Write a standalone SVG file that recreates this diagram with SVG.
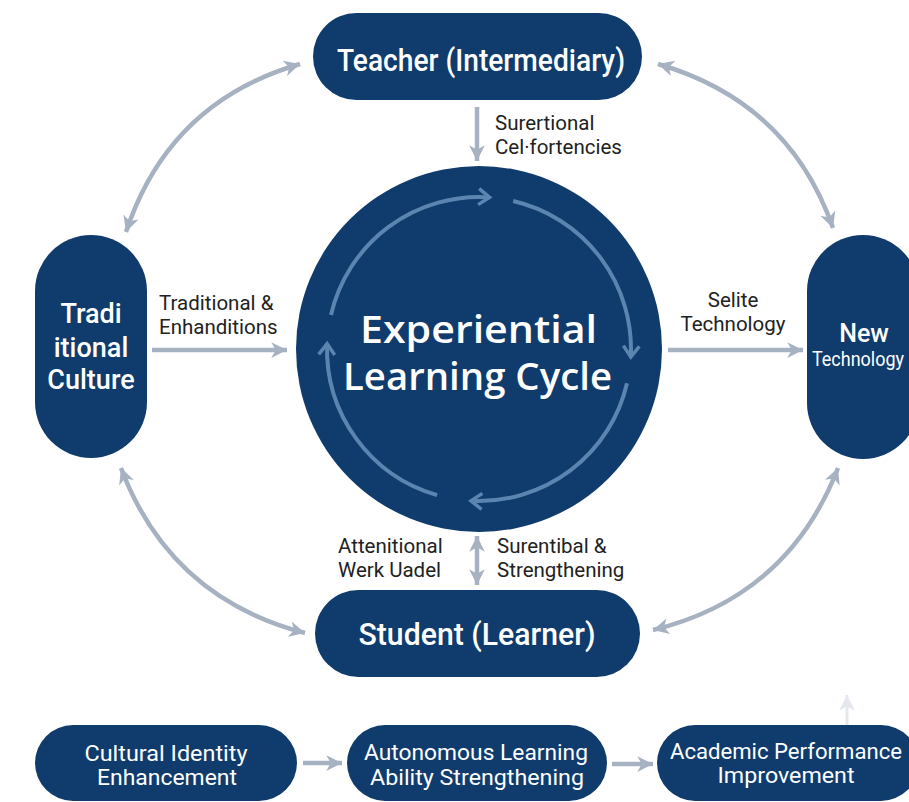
<svg xmlns="http://www.w3.org/2000/svg" width="909" height="802" viewBox="0 0 909 802">
  <defs>
    <style>
      .node { fill: #0f3c6d; }
      .ntxt { fill: #ffffff; font-family: Roboto, "Liberation Sans", sans-serif; font-weight: 500; text-anchor: middle; }
      .btxt { fill: #ffffff; font-family: Roboto, "Liberation Sans", sans-serif; font-weight: 400; text-anchor: middle; font-size: 22px; }
      .hub  { fill: #ffffff; font-family: "Open Sans", "Noto Sans", sans-serif; font-weight: 600; text-anchor: middle; font-size: 38px; }
      .lbl  { fill: #222222; font-family: Roboto, "Liberation Sans", sans-serif; font-size: 20.5px; }
      .link { fill: none; stroke: #a6b2c2; stroke-width: 4.5; }
      .cyc  { fill: none; stroke: #5b84b1; stroke-width: 4; }
    </style>
    <marker id="head" viewBox="0 0 16 16" markerWidth="18" markerHeight="18" markerUnits="userSpaceOnUse" refX="15" refY="8" orient="auto-start-reverse">
      <path d="M1,1 L15,8 L1,15 L5,8 Z" fill="#a6b2c2"/>
    </marker>
    <marker id="faint" viewBox="0 0 16 16" markerWidth="18" markerHeight="18" markerUnits="userSpaceOnUse" refX="15" refY="8" orient="auto">
      <path d="M1,1 L15,8 L1,15 L5,8 Z" fill="#e4e8ee"/>
    </marker>
    <marker id="chev" viewBox="0 0 20 20" markerWidth="20" markerHeight="20" markerUnits="userSpaceOnUse" refX="16" refY="10" orient="auto">
      <path d="M5,2 L16,10 L5,18" fill="none" stroke="#5b84b1" stroke-width="3.5" stroke-linejoin="miter"/>
    </marker>
  </defs>

  <rect width="909" height="802" fill="#ffffff"/>

  <!-- connectors -->
  <g id="connectors">
    <!-- outer ring of two-way links -->
    <path class="link" d="M300,64 Q169,102 126,232" marker-start="url(#head)" marker-end="url(#head)"/>
    <path class="link" d="M658,64 Q789,102 833,228" marker-start="url(#head)" marker-end="url(#head)"/>
    <path class="link" d="M121,468 Q170,598 305,633" marker-start="url(#head)" marker-end="url(#head)"/>
    <path class="link" d="M838,468 Q788,597 653,630" marker-start="url(#head)" marker-end="url(#head)"/>
    <!-- spokes into and out of the cycle -->
    <path class="link" d="M477,107 L477,161" marker-end="url(#head)"/>
    <path class="link" d="M152,350 L287,350" marker-end="url(#head)"/>
    <path class="link" d="M668,350 L803,350" marker-end="url(#head)"/>
    <path class="link" d="M477,536 L477,585" marker-start="url(#head)" marker-end="url(#head)"/>
    <!-- outcome chain -->
    <path class="link" d="M303,763 L342,763" marker-end="url(#head)"/>
    <path class="link" d="M612,764 L653,764" marker-end="url(#head)"/>
    <path d="M847,727 L847,695" fill="none" stroke="#e4e8ee" stroke-width="3" marker-end="url(#faint)"/>
  </g>

  <!-- central cycle -->
  <g id="cycle">
    <circle class="node" cx="479" cy="349" r="183"/>
    <path class="cyc" d="M331,315 A152,152 0 0 1 489.6,197.4" marker-end="url(#chev)"/>
    <path class="cyc" d="M513.2,201 A152,152 0 0 1 630.8,357" marker-end="url(#chev)"/>
    <path class="cyc" d="M627,383.2 A152,152 0 0 1 471,500.8" marker-end="url(#chev)"/>
    <path class="cyc" d="M437.1,495.1 A152,152 0 0 1 327.1,343.7" marker-end="url(#chev)"/>
    <text class="hub" x="478.5" y="343" textLength="237" lengthAdjust="spacingAndGlyphs">Experiential</text>
    <text class="hub" x="477.5" y="390" textLength="269" lengthAdjust="spacingAndGlyphs">Learning Cycle</text>
  </g>

  <g id="teacher">
    <rect class="node" x="313" y="13" width="329" height="87" rx="43.5"/>
    <text class="ntxt" x="481" y="71" font-size="31" textLength="288" lengthAdjust="spacingAndGlyphs">Teacher (Intermediary)</text>
  </g>

  <g id="traditional-culture">
    <rect class="node" x="35" y="235" width="112" height="223" rx="56"/>
    <text class="ntxt" x="91" y="323" font-size="27">Tradi</text>
    <text class="ntxt" x="91" y="357" font-size="27">itional</text>
    <text class="ntxt" x="91" y="389" font-size="27">Culture</text>
  </g>

  <g id="new-technology">
    <rect class="node" x="807" y="235" width="112" height="224" rx="56"/>
    <text class="ntxt" x="864" y="342" font-size="25">New</text>
    <text x="812" y="366" font-size="19.5" fill="#ffffff" font-family="Roboto, 'Liberation Sans', sans-serif" textLength="92" lengthAdjust="spacingAndGlyphs">Technology</text>
  </g>

  <g id="student">
    <rect class="node" x="315" y="590" width="325" height="87" rx="43.5"/>
    <text class="ntxt" x="477" y="645" font-size="31" textLength="237" lengthAdjust="spacingAndGlyphs">Student (Learner)</text>
  </g>

  <g id="cultural-identity">
    <rect class="node" x="35" y="725" width="262" height="76" rx="38"/>
    <text class="btxt" x="166" y="761" textLength="163" lengthAdjust="spacingAndGlyphs">Cultural Identity</text>
    <text class="btxt" x="167" y="785" textLength="140" lengthAdjust="spacingAndGlyphs">Enhancement</text>
  </g>

  <g id="autonomous-learning">
    <rect class="node" x="347" y="725" width="260" height="76" rx="38"/>
    <text class="btxt" x="476" y="760" textLength="224" lengthAdjust="spacingAndGlyphs">Autonomous Learning</text>
    <text class="btxt" x="477" y="785" textLength="214" lengthAdjust="spacingAndGlyphs">Ability Strengthening</text>
  </g>

  <g id="academic-performance">
    <rect class="node" x="657" y="725" width="262" height="76" rx="38"/>
    <text class="btxt" x="786" y="759" textLength="232" lengthAdjust="spacingAndGlyphs">Academic Performance</text>
    <text class="btxt" x="786" y="783" textLength="137" lengthAdjust="spacingAndGlyphs">Improvement</text>
  </g>

  <!-- link labels -->
  <g id="labels">
    <text class="lbl" x="495" y="130">Surertional</text>
    <text class="lbl" x="495" y="154">Cel·fortencies</text>
    <text class="lbl" x="159" y="310">Traditional &amp;</text>
    <text class="lbl" x="159" y="334">Enhanditions</text>
    <text class="lbl" x="733" y="307" text-anchor="middle">Selite</text>
    <text class="lbl" x="733" y="331" text-anchor="middle">Technology</text>
    <text class="lbl" x="338" y="553">Attenitional</text>
    <text class="lbl" x="338" y="577">Werk Uadel</text>
    <text class="lbl" x="497" y="553">Surentibal &amp;</text>
    <text class="lbl" x="497" y="577">Strengthening</text>
  </g>
</svg>
